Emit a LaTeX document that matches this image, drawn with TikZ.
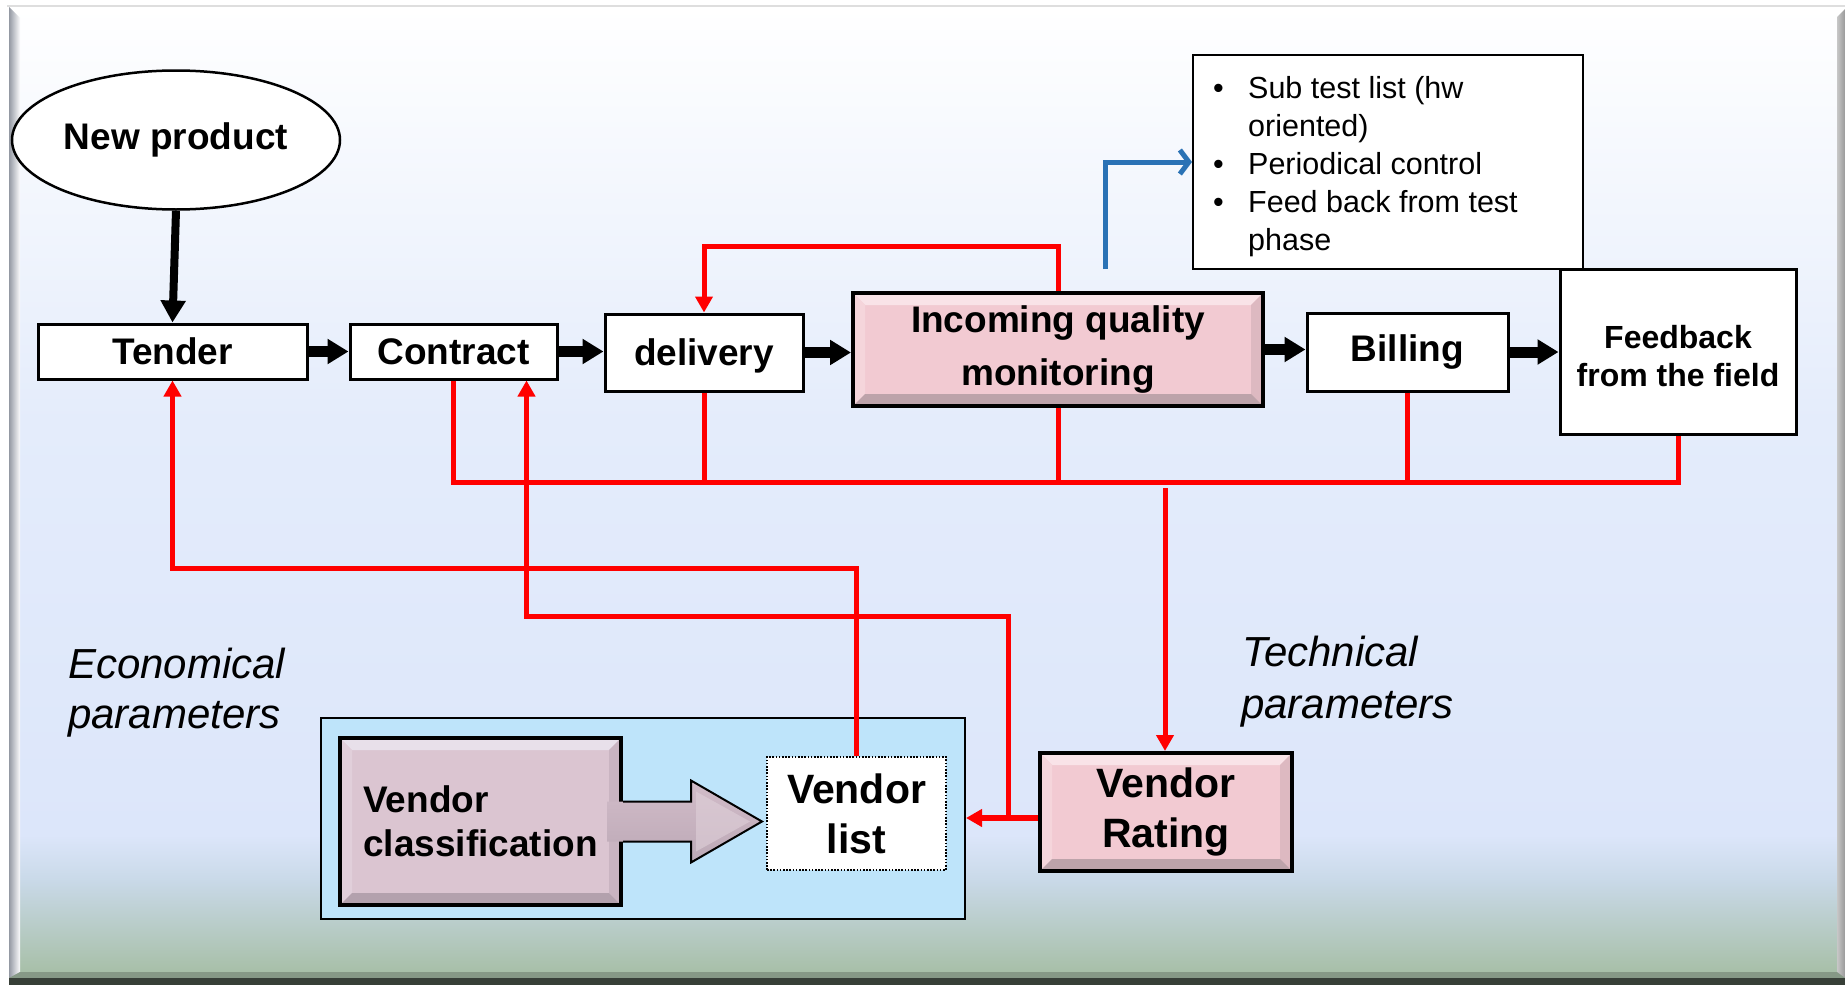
\documentclass[tikz,border=0pt]{standalone}
\usepackage{fontspec}
\setmainfont{Liberation Sans}
\usetikzlibrary{arrows.meta,calc,shapes.geometric}

\definecolor{redline}{HTML}{FF0000}
\definecolor{blueline}{HTML}{2A72B5}
\definecolor{pinkmain}{HTML}{F2CAD2}
\definecolor{pinklight}{HTML}{F9E3E8}
\definecolor{pinkside}{HTML}{F5D5DB}
\definecolor{pinkright}{HTML}{DDB9C1}
\definecolor{pinkdark}{HTML}{BDA3AA}
\definecolor{mauvemain}{HTML}{DBC5D1}
\definecolor{mauvelight}{HTML}{E8E0EA}
\definecolor{mauveside}{HTML}{E1CFDA}
\definecolor{mauveright}{HTML}{C9B4C1}
\definecolor{mauvedark}{HTML}{B3A1AD}
\definecolor{arrowtop}{HTML}{D2BCC9}
\definecolor{arrowmid}{HTML}{E6EEF6}
\definecolor{arrowbot}{HTML}{BCA9B6}
\definecolor{groupblue}{HTML}{BEE4FA}
\definecolor{bgA}{HTML}{FFFFFF}
\definecolor{bgB}{HTML}{E4ECFB}
\definecolor{bgC}{HTML}{DCE6FA}
\definecolor{bgD}{HTML}{C9D9E8}
\definecolor{bgE}{HTML}{A7BFA7}

\tikzset{
  % raised (bevelled) fill: main, top, left, right, bottom
  bevel/.style n args={5}{%
    fill=#1,
    path picture={
      \fill[#2] (path picture bounding box.north west) -- (path picture bounding box.north east)
        -- ([xshift=-12pt,yshift=-12pt]path picture bounding box.north east)
        -- ([xshift=12pt,yshift=-12pt]path picture bounding box.north west) -- cycle;
      \fill[#3] (path picture bounding box.north west) -- ([xshift=12pt,yshift=-12pt]path picture bounding box.north west)
        -- ([xshift=12pt,yshift=12pt]path picture bounding box.south west) -- (path picture bounding box.south west) -- cycle;
      \fill[#4] (path picture bounding box.north east) -- ([xshift=-12pt,yshift=-12pt]path picture bounding box.north east)
        -- ([xshift=-12pt,yshift=12pt]path picture bounding box.south east) -- (path picture bounding box.south east) -- cycle;
      \fill[#5] (path picture bounding box.south west) -- ([xshift=12pt,yshift=12pt]path picture bounding box.south west)
        -- ([xshift=-12pt,yshift=12pt]path picture bounding box.south east) -- (path picture bounding box.south east) -- cycle;
    }
  },
  boldtext/.style={font=\bfseries\fontsize{37}{44}\selectfont},
  bigtext/.style={font=\bfseries\fontsize{41}{50}\selectfont},
  plainbox/.style={draw=black, line width=3pt, fill=white, inner sep=0pt, align=center, boldtext},
  pinkbox/.style={draw=black, line width=4pt, inner sep=0pt, align=center, boldtext,
    bevel={pinkmain}{pinklight}{pinkside}{pinkright}{pinkdark}},
  mauvebox/.style={draw=black, line width=4pt, inner sep=0pt, align=left, boldtext,
    bevel={mauvemain}{mauvelight}{mauveside}{mauveright}{mauvedark}},
  paramtext/.style={anchor=base west, inner sep=0pt, font=\itshape\fontsize{42}{50}\selectfont},
  flow/.style={line width=11pt, -{Triangle[length=21pt,width=24pt]}},
  fb/.style={draw=redline, line width=5pt},
  fbarrow/.style={fb, -{Triangle[length=16pt,width=17pt]}},
}

\begin{document}
\begin{tikzpicture}[x=1pt, y=-1pt]
\useasboundingbox (0,0) rectangle (1845,985);

% slide background with its bevelled frame
\fill[white] (0,0) rectangle (1845,985);
\shade[top color=bgA, bottom color=bgB] (9,7) rectangle (1845,421);
\shade[top color=bgB, bottom color=bgC] (9,420) rectangle (1845,836);
\shade[top color=bgC, bottom color=bgD] (9,835) rectangle (1845,881);
\shade[top color=bgD, bottom color=bgE] (9,880) rectangle (1845,973);
\shade[left color=black!35!bgB, right color=bgB!85!black!5] (9,7) -- (20,18) -- (20,972) -- (9,983) -- cycle;
\shade[left color=black!22, right color=black!40] (1837,17) -- (1845,9) -- (1845,985) -- (1837,975) -- cycle;
\fill[bgE!80!black] (20,972) -- (1837,972) -- (1845,978) -- (9,978) -- cycle;
\fill[black!45!bgE!60!black] (9,978) rectangle (1845,985);
\draw[black!13, line width=1.5pt] (7,6) -- (1845,6);

% main process chain
\node[ellipse, draw=black, line width=2.5pt, fill=white, minimum width=328pt, minimum height=139pt,
      inner sep=0pt, boldtext] (newprod) at (176,140) {New product};
\node[plainbox, minimum width=269pt, minimum height=55pt] (tender) at (172.5,351.5) {Tender};
\node[plainbox, minimum width=207pt, minimum height=55pt] (contract) at (453.5,351.5) {Contract};
\node[plainbox, minimum width=198pt, minimum height=77pt] (delivery) at (704,352.5) {};
\node[boldtext, inner sep=0pt] (deltext) at ([yshift=-3pt]delivery.center) {delivery};
\node[pinkbox, minimum width=410pt, minimum height=113pt, font=\bfseries\fontsize{37}{53}\selectfont]
      (incoming) at (1058,349.5) {Incoming quality\\monitoring};
\node[plainbox, minimum width=201pt, minimum height=78pt] (billing) at (1407.5,352) {Billing};
\node[plainbox, minimum width=236pt, minimum height=165pt] (feedback) at (1678,351.5) {};
\node[inner sep=0pt, align=center, font=\bfseries\fontsize{32}{38}\selectfont]
      (fbtext) at ([yshift=-5pt]feedback.center) {Feedback\\from the field};

% notes on incoming inspection
\node[draw=black, line width=2pt, fill=white, minimum width=390pt, minimum height=214pt, inner sep=0pt]
      (notes) at (1388,162) {};
\node[anchor=base west, inner sep=0pt, font=\fontsize{30.5}{38}\selectfont] (notetext) at (1213,98)
      {\begin{tabular}[t]{@{}p{35pt}@{}l@{}}
        \textbullet & Sub test list (hw\\
                    & oriented)\\
        \textbullet & Periodical control\\
        \textbullet & Feed back from test\\
                    & phase
       \end{tabular}};

% vendor management group
\node[draw=black, line width=2pt, fill=groupblue, minimum width=644pt, minimum height=201pt, inner sep=0pt]
      (vgroup) at (643,818.5) {};
\node[mauvebox, minimum width=281pt, minimum height=167pt] (vclass) at (480.5,821.5) {Vendor\\classification};
\node[draw=black, line width=2pt, dash pattern=on 1.6pt off 1.6pt, fill=white, minimum width=179pt,
      minimum height=113pt, inner sep=0pt, align=center, bigtext] (vlist) at (856.5,813.5) {Vendor\\list};
\node[pinkbox, minimum width=252pt, minimum height=118pt, bigtext] (vrating) at (1166,812) {Vendor\\Rating};

% block arrow from classification to list
\coordinate (bt) at (vlist.west |- vclass.east);
\coordinate (batip) at ([xshift=-4pt]bt);
\coordinate (bastart) at ([xshift=-16pt]vclass.east);
\shade[top color=arrowtop, middle color=arrowmid, bottom color=arrowbot]
  ($(bastart)+(0,-20)$) -- ($(batip)+(-71,-20)$) -- ($(batip)+(-71,-41)$) -- (batip)
  -- ($(batip)+(-71,41)$) -- ($(batip)+(-71,20)$) -- ($(bastart)+(0,20)$) -- cycle;
\fill[arrowtop!70!white, opacity=0.6]
  ($(batip)+(-66,-30)$) -- ($(batip)+(-12,0)$) -- ($(batip)+(-66,30)$) -- cycle;
\draw[black, line width=2pt, line join=miter]
  ($(vclass.east)+(0,-20)$) -- ($(batip)+(-71,-20)$) -- ($(batip)+(-71,-41)$) -- (batip)
  -- ($(batip)+(-71,41)$) -- ($(batip)+(-71,20)$) -- ($(vclass.east)+(0,20)$);

% forward flow
\draw[line width=8pt, -{Triangle[length=22pt,width=24pt]}] (newprod.south) -- (tender.north);
\draw[flow] (tender.east) -- (contract.west);
\draw[flow] (contract.east) -- (contract.east -| delivery.west);
\draw[flow] (delivery.east) -- (delivery.east -| incoming.west);
\draw[flow] (incoming.east) -- (incoming.east -| billing.west);
\draw[flow] (billing.east) -- (billing.east -| feedback.west);

% feedback bus into vendor rating
\coordinate (busy) at (0,482);
\draw[fb] (contract.south) -- (contract.south |- busy) -- (feedback.south |- busy) -- (feedback.south);
\draw[fb] (delivery.south) -- (delivery.south |- busy);
\draw[fb] (incoming.south) -- (incoming.south |- busy);
\draw[fb] (billing.south) -- (billing.south |- busy);
\coordinate (techtop) at (1165,488);
\draw[fbarrow] (techtop) -- (techtop |- vrating.north);

% re-inspection loop
\coordinate (loopy) at (0,246);
\draw[fbarrow] (incoming.north) -- (incoming.north |- loopy) -- (delivery.north |- loopy) -- (delivery.north);

% vendor list back to tender
\coordinate (tendy) at (0,568);
\draw[fbarrow] (vlist.north) -- (vlist.north |- tendy) -- (tender.south |- tendy) -- (tender.south);

% vendor rating to list and to contract
\coordinate (vrout) at ([yshift=-6pt]vrating.west);
\coordinate (jx) at (1008,0);
\coordinate (conty) at (0,616);
\coordinate (contin) at ([xshift=-32pt]contract.south east);
\draw[fbarrow] (vrout) -- (vrout -| jx) -- (jx |- conty) -- (contin |- conty) -- (contin);
\draw[fbarrow, line width=6pt] (vrout) -- (vrout -| vgroup.east);

% pointer to the notes
\coordinate (bluestart) at (1105,269);
\draw[blueline, line width=5pt, -{Straight Barb[length=9pt,width=24pt]}] (bluestart) |- (notes.west);

% parameter labels
\node[paramtext] (econ1) at (68,678) {Economical};
\node[paramtext] (econ2) at (68,728) {parameters};
\node[paramtext] (tech1) at (1242,666) {Technical};
\node[paramtext] (tech2) at (1241,718) {parameters};
\end{tikzpicture}
\end{document}
